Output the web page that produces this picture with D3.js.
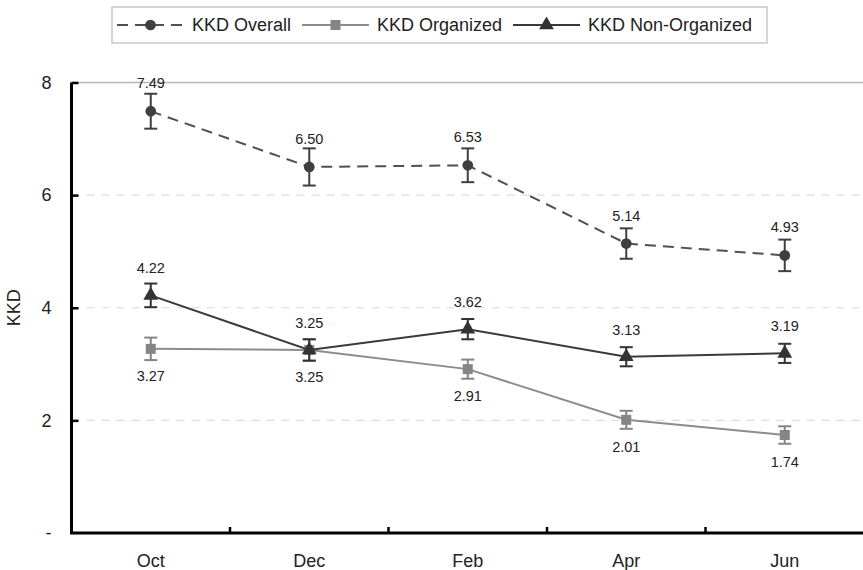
<!DOCTYPE html>
<html>
<head>
<meta charset="utf-8">
<script src="https://cdn.jsdelivr.net/npm/d3@7"></script>
<style>
  html, body { margin: 0; padding: 0; background: #fff; }
  svg { display: block; font-family: "Liberation Sans", Arial, sans-serif; }
</style>
</head>
<body>
<svg id="chart" width="863" height="570"></svg>
<script>
// Survey months
const months = ["Oct", "Dec", "Feb", "Apr", "Jun"];

// Mean KKD per month and its error
const overall = [7.49, 6.50, 6.53, 5.14, 4.93];
const overallErr = [0.31, 0.33, 0.30, 0.27, 0.28];
const organized = [3.27, 3.25, 2.91, 2.01, 1.74];
const organizedErr = [0.20, 0.19, 0.17, 0.16, 0.155];
const nonOrganized = [4.22, 3.25, 3.62, 3.13, 3.19];
const nonOrganizedErr = [0.21, 0.19, 0.18, 0.17, 0.17];

const yTicks = [0, 2, 4, 6, 8];
const seriesNames = ["KKD Overall", "KKD Organized", "KKD Non-Organized"];

const svg = d3.select("#chart");

const x = d3.scaleBand().domain(months).range([71.5, 864]).padding(0);
const y = d3.scaleLinear().domain([0, 8]).range([533, 82.5]);
const cx = m => x(m) + x.bandwidth() / 2;

// Gridlines at 2, 4, 6 (dashed) and a solid rule at the top value
svg.append("g").selectAll("line")
  .data(yTicks.filter(t => t > 0 && t < 8))
  .join("line")
  .attr("x1", x.range()[0]).attr("x2", x.range()[1])
  .attr("y1", d => y(d)).attr("y2", d => y(d))
  .attr("stroke", "#dcdcdc").attr("stroke-width", 1.2)
  .attr("stroke-dasharray", "8,7");

svg.append("line")
  .attr("x1", x.range()[0]).attr("x2", 863)
  .attr("y1", y(8)).attr("y2", y(8))
  .attr("stroke", "#b8b8b8").attr("stroke-width", 1.3);

// Y axis: ticks point into the plot, labels on the left
const yAxis = d3.axisLeft(y)
  .tickValues(yTicks)
  .tickSizeInner(-7).tickSizeOuter(0)
  .tickPadding(20)
  .tickFormat(d => d === 0 ? "-" : d3.format("d")(d));

const yg = svg.append("g").attr("transform", `translate(${x.range()[0]},0)`).call(yAxis);
yg.select(".domain").remove();
yg.selectAll(".tick line").attr("stroke", "#000").attr("stroke-width", 2.5)
  .filter(d => d === 0).remove();
yg.selectAll(".tick text").attr("font-size", 18).attr("fill", "#222")
  .attr("font-family", "Liberation Sans, Arial, sans-serif");

// X axis: month labels centred, ticks on category boundaries
const xAxis = d3.axisBottom(x).tickSize(0).tickPadding(21);
const xg = svg.append("g").attr("transform", `translate(0,${y(0)})`).call(xAxis);
xg.select(".domain").remove();
xg.selectAll(".tick text").attr("font-size", 18).attr("fill", "#222")
  .attr("font-family", "Liberation Sans, Arial, sans-serif");

svg.append("g").selectAll("line")
  .data(months.slice(1))
  .join("line")
  .attr("x1", d => x(d)).attr("x2", d => x(d))
  .attr("y1", y(0)).attr("y2", y(0) - 6)
  .attr("stroke", "#000").attr("stroke-width", 2.5);

// Axis lines
svg.append("path")
  .attr("d", `M${x.range()[0]},${y(8)}V${y(0)}H${x.range()[1]}`)
  .attr("fill", "none").attr("stroke", "#000").attr("stroke-width", 3);

// Y title
svg.append("text")
  .attr("transform", `translate(20,${y(4)}) rotate(-90)`)
  .attr("text-anchor", "middle")
  .attr("font-size", 18).attr("fill", "#222")
  .text("KKD");

const series = [
  { name: seriesNames[0], values: overall, err: overallErr, line: "#505050", mark: "#3f3f3f",
    dash: "11,7", symbol: d3.symbolCircle, size: 90, labelDy: -23 },
  { name: seriesNames[1], values: organized, err: organizedErr, line: "#8c8c8c", mark: "#858585",
    dash: null, symbol: d3.symbolSquare, size: 100, labelDy: 32 },
  { name: seriesNames[2], values: nonOrganized, err: nonOrganizedErr, line: "#3a3a3a", mark: "#333333",
    dash: null, symbol: d3.symbolTriangle, size: 95, labelDy: -22 }
];

const line = d3.line().x(d => cx(d.m)).y(d => y(d.v));

series.forEach(s => {
  const pts = months.map((m, i) => ({ m, v: s.values[i], e: s.err[i] }));
  const g = svg.append("g");

  g.append("path").datum(pts)
    .attr("d", line)
    .attr("fill", "none")
    .attr("stroke", s.line).attr("stroke-width", 2)
    .attr("stroke-dasharray", s.dash);

  // Error bars
  const eb = g.append("g").selectAll("g").data(pts).join("g")
    .attr("stroke", s.mark).attr("stroke-width", 2);
  eb.append("line")
    .attr("x1", d => cx(d.m)).attr("x2", d => cx(d.m))
    .attr("y1", d => y(d.v + d.e)).attr("y2", d => y(d.v - d.e));
  eb.append("line")
    .attr("x1", d => cx(d.m) - 6.5).attr("x2", d => cx(d.m) + 6.5)
    .attr("y1", d => y(d.v + d.e)).attr("y2", d => y(d.v + d.e));
  eb.append("line")
    .attr("x1", d => cx(d.m) - 6.5).attr("x2", d => cx(d.m) + 6.5)
    .attr("y1", d => y(d.v - d.e)).attr("y2", d => y(d.v - d.e));

  // Markers
  g.append("g").selectAll("path").data(pts).join("path")
    .attr("transform", d => `translate(${cx(d.m)},${y(d.v)})`)
    .attr("d", d3.symbol().type(s.symbol).size(s.size))
    .attr("fill", s.mark);

  s.pts = pts;
});

// Value labels on top of everything
series.forEach(s => {
  svg.append("g").selectAll("text").data(s.pts).join("text")
    .attr("x", d => cx(d.m))
    .attr("y", d => y(d.v) + s.labelDy)
    .attr("text-anchor", "middle")
    .attr("font-size", 14.5).attr("fill", "#222")
    .text(d => d3.format(".2f")(d.v));
});

// Legend
const legend = svg.append("g");
legend.append("rect")
  .attr("x", 112).attr("y", 7).attr("width", 655).attr("height", 36)
  .attr("fill", "#fff").attr("stroke", "#c8c8c8").attr("stroke-width", 1.5);

const legendItems = [
  { s: series[0], x0: 117, x1: 184, tx: 192 },
  { s: series[1], x0: 302, x1: 369, tx: 377 },
  { s: series[2], x0: 513, x1: 580, tx: 588 }
];
legendItems.forEach(it => {
  const ly = 25;
  legend.append("line")
    .attr("x1", it.x0).attr("x2", it.x1).attr("y1", ly).attr("y2", ly)
    .attr("stroke", it.s.line).attr("stroke-width", 2)
    .attr("stroke-dasharray", it.s.dash);
  legend.append("path")
    .attr("transform", `translate(${(it.x0 + it.x1) / 2},${ly})`)
    .attr("d", d3.symbol().type(it.s.symbol).size(it.s.size))
    .attr("fill", it.s.mark);
  legend.append("text")
    .attr("x", it.tx).attr("y", ly).attr("dy", "0.35em")
    .attr("font-size", 18).attr("fill", "#222")
    .text(it.s.name);
});
</script>
</body>
</html>
